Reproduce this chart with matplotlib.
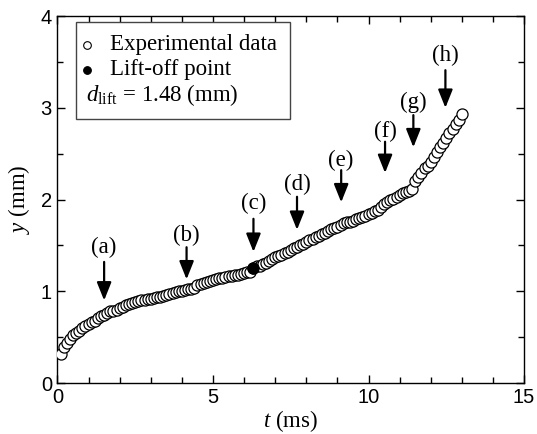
import numpy as np
import matplotlib
matplotlib.use("Agg")
import matplotlib.pyplot as plt
from matplotlib.patches import Rectangle

plt.rcParams["mathtext.fontset"] = "custom"
plt.rcParams["mathtext.rm"] = "Liberation Serif"
plt.rcParams["mathtext.it"] = "Liberation Serif:italic"

# ---- data ----
t_ms = [round(0.1 * i, 1) for i in range(1, 131)]
y_mm = [
    0.32, 0.39, 0.44, 0.48, 0.52, 0.55, 0.57, 0.60, 0.62, 0.64,
    0.66, 0.68, 0.71, 0.73, 0.74, 0.76, 0.78, 0.79, 0.80, 0.82,
    0.83, 0.85, 0.86, 0.87, 0.88, 0.89, 0.90, 0.91, 0.92, 0.92,
    0.93, 0.94, 0.94, 0.95, 0.96, 0.97, 0.98, 0.99, 1.00, 1.00,
    1.01, 1.02, 1.03, 1.04, 1.07, 1.08, 1.09, 1.10, 1.11, 1.12,
    1.13, 1.14, 1.15, 1.16, 1.17, 1.17, 1.18, 1.18, 1.19, 1.20,
    1.21, 1.21, 1.25, 1.27, 1.28, 1.30, 1.31, 1.33, 1.35, 1.37,
    1.38, 1.40, 1.42, 1.43, 1.45, 1.47, 1.48, 1.50, 1.52, 1.54,
    1.56, 1.57, 1.59, 1.60, 1.62, 1.63, 1.66, 1.68, 1.69, 1.70,
    1.72, 1.74, 1.75, 1.76, 1.77, 1.79, 1.80, 1.81, 1.82, 1.84,
    1.85, 1.87, 1.89, 1.92, 1.95, 1.97, 1.99, 2.01, 2.03, 2.05,
    2.07, 2.08, 2.09, 2.11, 2.20, 2.25, 2.29, 2.34, 2.37, 2.41,
    2.46, 2.52, 2.57, 2.62, 2.67, 2.72, 2.77, 2.82, 2.87, 2.93,
]
liftoff_t = [6.3]
liftoff_y = [1.25]

arrow_labels = ["(a)", "(b)", "(c)", "(d)", "(e)", "(f)", "(g)", "(h)"]
arrow_t = [1.5, 4.15, 6.3, 7.7, 9.12, 10.53, 11.44, 12.47]
arrow_top = [1.32, 1.48, 1.79, 2.03, 2.32, 2.63, 2.92, 3.41]
arrow_tip = [0.90, 1.13, 1.43, 1.67, 1.97, 2.29, 2.57, 3.00]
label_y = [1.48, 1.61, 1.96, 2.16, 2.43, 2.74, 3.06, 3.57]

x_ticks = [0, 5, 10, 15]
y_ticks = [0, 1, 2, 3, 4]

SERIF = "Liberation Serif"
SANS = "Liberation Sans"

fig = plt.figure(figsize=(5.37, 4.34), dpi=100)
ax = fig.add_axes([0.107, 0.1175, 0.869, 0.8455])

ax.plot(t_ms, y_mm, linestyle="none", marker="o", markersize=8.0,
        markerfacecolor="white", markeredgecolor="black", markeredgewidth=0.9,
        zorder=3)
ax.plot(liftoff_t, liftoff_y, linestyle="none", marker="o", markersize=8.0,
        markerfacecolor="black", markeredgecolor="black", markeredgewidth=0.9,
        zorder=4)

for lab, tx, y0, y1, ly in zip(arrow_labels, arrow_t, arrow_top, arrow_tip, label_y):
    ax.annotate("", xy=(tx, y1), xytext=(tx, y0),
                arrowprops=dict(arrowstyle="-|>,head_length=0.55,head_width=0.22",
                                mutation_scale=20, lw=1.6, color="black",
                                shrinkA=0, shrinkB=0), zorder=5)
    ax.text(tx, ly, lab, ha="center", va="center", fontsize=16.5,
            family=SERIF, zorder=5)

ax.set_xlim(0, 15)
ax.set_ylim(0, 4)
ax.set_xticks(x_ticks)
ax.set_yticks(y_ticks)
ax.set_xticks(np.arange(0, 15.01, 1), minor=True)
ax.set_yticks(np.arange(0, 4.01, 0.5), minor=True)
ax.tick_params(which="both", direction="in", top=True, right=True,
               width=1.0, colors="black")
ax.tick_params(which="major", length=6, labelsize=14.5)
ax.tick_params(axis="x", which="major", pad=3.5)
ax.tick_params(axis="y", which="major", pad=4)
ax.tick_params(which="minor", length=4.5)
for lbl in ax.get_xticklabels() + ax.get_yticklabels():
    lbl.set_family(SANS)
for s in ax.spines.values():
    s.set_linewidth(1.0)

ax.set_xlabel(r"$t$ (ms)", fontsize=16.5, family=SERIF, labelpad=1)
ax.set_ylabel(r"$y$ (mm)", fontsize=16.5, family=SERIF, labelpad=6)

# legend box (manual)
ax.add_patch(Rectangle((0.04, 0.719), 0.458, 0.265, transform=ax.transAxes,
                       facecolor="white", edgecolor="#444444", lw=1.0, zorder=6))
ax.plot([0.0635], [0.922], transform=ax.transAxes, marker="o", markersize=5.5,
        markerfacecolor="white", markeredgecolor="black", markeredgewidth=0.8,
        zorder=7, clip_on=False)
ax.plot([0.0635], [0.854], transform=ax.transAxes, marker="o", markersize=5.5,
        markerfacecolor="black", markeredgecolor="black", markeredgewidth=0.8,
        zorder=7, clip_on=False)
ax.text(0.112, 0.922, "Experimental data", transform=ax.transAxes,
        fontsize=16.5, family=SERIF, va="center", ha="left", zorder=7)
ax.text(0.112, 0.854, "Lift-off point", transform=ax.transAxes,
        fontsize=16.5, family=SERIF, va="center", ha="left", zorder=7)
ax.text(0.062, 0.786, r"$d_{\mathrm{lift}}$ = 1.48 (mm)", transform=ax.transAxes,
        fontsize=16.5, family=SERIF, va="center", ha="left", zorder=7)

fig.savefig("out.png", dpi=100)
